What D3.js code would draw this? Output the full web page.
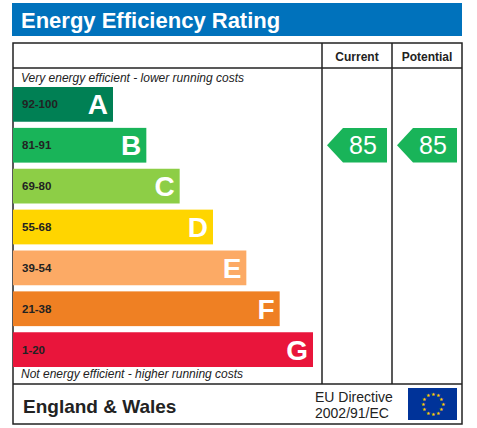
<!DOCTYPE html><html><head><meta charset="utf-8"><script src="https://cdn.jsdelivr.net/npm/d3@7"></script>
<style>body{margin:0;background:#fff}</style></head><body><svg id="c" width="477" height="428"></svg><script>
const letters=["A","B","C","D","E","F","G"];
const ranges=["92-100","81-91","69-80","55-68","39-54","21-38","1-20"];
const mins=[92,81,69,55,39,21,1];
const colors=["#008054","#19b459","#8dce46","#ffd500","#fcaa65","#ef8023","#e9153b"];
const currentValue=85, potentialValue=85;
const svg=d3.select("#c"), F="Liberation Sans, Arial, sans-serif";
const y=d3.scaleBand().domain(letters).range([87,367]).paddingInner(0.15).paddingOuter(0);
const w=d3.scaleLinear().domain([0,6]).range([100,300]);
svg.append("rect").attr("x",12).attr("y",3).attr("width",450).attr("height",33).attr("fill","#0072bc");
svg.append("text").attr("x",21).attr("y",28).attr("fill","#fff").attr("font-family",F).attr("font-weight","bold").attr("font-size",22).text("Energy Efficiency Rating");
const g=svg.append("g").attr("fill","none").attr("stroke","#222").attr("stroke-width",1.5);
g.append("rect").attr("x",13).attr("y",43).attr("width",449).attr("height",381);
g.append("line").attr("x1",13).attr("x2",462).attr("y1",68).attr("y2",68);
g.append("line").attr("x1",13).attr("x2",462).attr("y1",384).attr("y2",384);
[322,392].forEach(x=>g.append("line").attr("x1",x).attr("x2",x).attr("y1",43).attr("y2",384));
const t=(x,yy,s,sz,o={})=>svg.append("text").attr("x",x).attr("y",yy).attr("font-family",F).attr("font-size",sz).attr("font-weight",o.b?"bold":"normal").attr("font-style",o.i?"italic":"normal").attr("fill",o.f||"#222").attr("text-anchor",o.a||"start").text(s);
t(357,61,"Current",12,{b:1,a:"middle"});t(427,61,"Potential",12,{b:1,a:"middle"});
t(21,82,"Very energy efficient - lower running costs",12,{i:1});
t(21,378,"Not energy efficient - higher running costs",12,{i:1});
letters.forEach((l,i)=>{
 svg.append("rect").attr("x",13).attr("y",y(l)).attr("width",w(i)).attr("height",y.bandwidth()).attr("fill",colors[i]);
 t(22,y(l)+y.bandwidth()/2+4,ranges[i],11.5,{b:1,f:"#222"});
 t(13+w(i)-5,y(l)+y.bandwidth()/2+10,l,28,{b:1,f:"#fff",a:"end"});
});
function arrow(val,x0){const i=mins.findIndex(m=>val>=m);const l=letters[i],yy=y(l),h=y.bandwidth();
 svg.append("path").attr("d",`M${x0},${yy+h/2}L${x0+16},${yy}L${x0+60},${yy}L${x0+60},${yy+h}L${x0+16},${yy+h}Z`).attr("fill",colors[i]);
 t(x0+36,yy+h/2+9,String(val),25,{f:"#fff",a:"middle"});}
arrow(currentValue,327);arrow(potentialValue,397);
t(23,413,"England & Wales",19,{b:1});
t(315,402,"EU Directive",14);t(315,418,"2002/91/EC",14);
svg.append("rect").attr("x",408).attr("y",388).attr("width",49).attr("height",32).attr("fill","#003399");
d3.range(12).forEach(k=>{const a=k*Math.PI/6;svg.append("text").attr("x",432.5+10*Math.cos(a)).attr("y",404+10*Math.sin(a)+2).attr("font-size",5).attr("fill","#ffcc00").attr("text-anchor","middle").text("★");});
</script></body></html>
